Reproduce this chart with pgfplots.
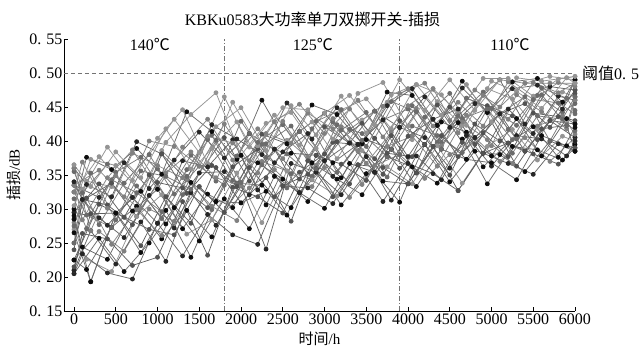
\documentclass[border=0pt]{standalone}
\usepackage{pgfplots}
\pgfplotsset{compat=1.18}
\usepackage{pgfplotstable}
\usepackage{fontspec}
\setmainfont{Liberation Serif}
\newfontfamily\cjk{Noto Sans CJK SC}

\pgfplotstableread{
x     a1   a2   a3   a4   a5   a6   a7   a8   a9
0     .335 .225 .295 .325 .205 .335 .295 .335 .225
300   .317 .267 .337 .377 .257 .277 .287 .357 .307
600   .368 .238 .288 .338 .208 .338 .258 .318 .288
900   .330 .300 .350 .380 .250 .380 .320 .400 .270
1200  .372 .282 .302 .432 .302 .322 .272 .392 .262
1500  .413 .333 .353 .383 .253 .363 .353 .363 .333
1800  .375 .295 .405 .465 .315 .335 .355 .425 .295
2100  .411 .331 .341 .391 .271 .411 .321 .371 .361
2400  .368 .358 .388 .438 .348 .388 .388 .428 .318
2700  .414 .324 .344 .394 .324 .414 .324 .454 .354
3000  .441 .361 .421 .441 .301 .371 .371 .411 .381
3300  .397 .317 .397 .467 .367 .417 .397 .447 .337
3600  .444 .364 .374 .424 .354 .444 .354 .404 .404
3900  .420 .380 .430 .490 .310 .380 .420 .470 .360
4200  .465 .345 .395 .445 .395 .435 .405 .485 .395
4500  .420 .380 .450 .490 .340 .470 .360 .430 .350
4800  .455 .405 .395 .445 .385 .405 .405 .475 .425
5100  .490 .370 .440 .490 .380 .440 .440 .450 .400
5400  .425 .405 .455 .485 .355 .465 .385 .485 .385
5700  .480 .370 .420 .495 .400 .400 .430 .485 .430
6000  .475 .405 .475 .490 .385 .465 .405 .485 .425
}\tA

\pgfplotstableread{
x     b1   b2   b3   b4   b5   b6   b7   b8   b9
0     .285 .225 .315 .360 .280 .250 .270 .300 .325
150   .341 .211 .271 .336 .316 .316 .226 .376 .291
450   .333 .273 .343 .318 .248 .338 .208 .358 .273
750   .304 .304 .324 .399 .299 .289 .289 .389 .334
1050  .386 .256 .296 .381 .261 .381 .321 .351 .286
1350  .348 .298 .358 .343 .343 .323 .263 .443 .348
1650  .389 .259 .409 .424 .304 .364 .284 .414 .299
1950  .428 .338 .338 .403 .283 .333 .353 .373 .378
2250  .365 .335 .395 .380 .370 .410 .280 .460 .365
2550  .401 .291 .381 .456 .356 .396 .356 .396 .331
2850  .428 .368 .348 .403 .333 .343 .343 .453 .418
3150  .374 .344 .424 .449 .399 .399 .319 .439 .354
3450  .431 .321 .411 .396 .336 .426 .386 .396 .401
3750  .457 .377 .377 .452 .392 .382 .362 .472 .347
4050  .402 .362 .452 .477 .407 .377 .337 .467 .422
4350  .458 .338 .398 .423 .363 .453 .393 .423 .408
4650  .423 .403 .433 .478 .428 .398 .338 .488 .383
4950  .477 .337 .447 .442 .402 .452 .392 .442 .447
5250  .462 .392 .402 .477 .367 .437 .417 .487 .382
5550  .417 .387 .467 .482 .422 .402 .372 .492 .437
5850  .472 .372 .442 .447 .437 .457 .407 .457 .432
6000  .465 .395 .455 .490 .410 .470 .400 .490 .415
}\tB

\pgfplotstableread{
x     c1   c2   c3   c4   c5   c6   c7   c8   c9
0     .205 .340 .240 .365 .290 .250 .340 .325 .210
100   .234 .284 .314 .329 .244 .324 .314 .369 .264
400   .206 .346 .306 .391 .226 .366 .276 .301 .256
700   .197 .387 .277 .342 .297 .317 .317 .382 .217
1000  .279 .329 .339 .404 .329 .359 .279 .364 .229
1300  .231 .391 .331 .446 .271 .321 .371 .346 .311
1600  .292 .432 .302 .367 .322 .402 .362 .407 .232
1900  .262 .372 .362 .457 .302 .342 .402 .397 .332
2200  .248 .418 .388 .393 .368 .398 .328 .353 .318
2500  .334 .374 .334 .449 .344 .424 .384 .429 .294
2800  .331 .441 .351 .446 .311 .371 .411 .376 .371
3100  .308 .418 .398 .403 .368 .428 .348 .433 .318
3400  .365 .385 .395 .470 .395 .395 .395 .460 .365
3700  .311 .451 .351 .486 .341 .431 .431 .406 .361
4000  .367 .477 .407 .422 .337 .447 .377 .452 .337
4300  .352 .422 .432 .477 .392 .392 .432 .477 .392
4600  .327 .457 .377 .442 .427 .437 .447 .412 .327
4900  .382 .422 .412 .492 .362 .472 .382 .467 .382
5200  .367 .487 .377 .492 .397 .417 .447 .432 .397
5500  .351 .461 .441 .466 .421 .461 .411 .486 .381
5800  .396 .486 .436 .491 .376 .456 .466 .471 .366
6000  .390 .480 .430 .495 .420 .440 .460 .485 .390
}\tC

\pgfplotstableread{
x     d1   d2   d3   d4   d5   d6   d7   d8   d9
0     .305 .285 .355 .210 .360 .215 .365 .265 .275
200   .373 .193 .293 .268 .268 .293 .333 .193 .353
500   .364 .294 .354 .219 .349 .294 .384 .294 .284
800   .326 .326 .376 .281 .301 .246 .346 .236 .356
1100  .398 .278 .318 .223 .353 .318 .418 .298 .348
1400  .439 .339 .379 .324 .384 .279 .359 .229 .329
1700  .471 .311 .341 .276 .346 .361 .421 .311 .401
2000  .379 .379 .429 .334 .334 .309 .449 .309 .339
2300  .426 .306 .376 .241 .411 .346 .386 .326 .396
2600  .442 .382 .352 .367 .397 .282 .452 .302 .422
2900  .389 .379 .429 .354 .364 .379 .409 .359 .359
3200  .446 .346 .446 .321 .421 .366 .466 .306 .416
3500  .462 .402 .392 .377 .367 .342 .412 .352 .442
3800  .418 .388 .458 .313 .413 .408 .468 .388 .388
4100  .483 .353 .443 .378 .448 .353 .483 .333 .443
4400  .468 .428 .398 .343 .393 .408 .438 .388 .388
4700  .423 .413 .463 .408 .438 .373 .483 .373 .463
5000  .488 .378 .448 .363 .393 .428 .428 .368 .448
5300  .473 .433 .423 .408 .468 .363 .493 .343 .403
5600  .448 .378 .478 .403 .443 .418 .488 .408 .468
5900  .493 .433 .463 .378 .418 .423 .493 .393 .423
6000  .495 .425 .445 .400 .460 .385 .485 .385 .465
}\tD

\pgfplotscreateplotcyclelist{grays}{
black!60,mark=*,mark options={fill=black!85,draw=black!85}\\
black!48,mark=*,mark options={fill=black!50,draw=black!50}\\
black!62,mark=*,mark options={fill=black!68,draw=black!68}\\
black!42,mark=*,mark options={fill=black!42,draw=black!42}\\
black!58,mark=*,mark options={fill=black!95,draw=black!95}\\
black!52,mark=*,mark options={fill=black!58,draw=black!58}\\
}

\begin{document}
\begin{tikzpicture}
\path[use as bounding box] (-64pt,-38pt) rectangle (577pt,311pt);
\begin{axis}[
  scale only axis, width=511pt, height=272pt,
  xmin=-120, xmax=6000, ymin=0.15, ymax=0.55,
  axis x line*=bottom, axis y line*=left,
  axis line style={line width=0.8pt, black},
  xtick={0,500,1000,1500,2000,2500,3000,3500,4000,4500,5000,5500,6000},
  xticklabels={0,500,1000,1500,2000,2500,3000,3500,4000,4500,5000,5500,6000},
  ytick={0.15,0.2,0.25,0.3,0.35,0.4,0.45,0.5,0.55},
  yticklabels={0.\hspace{0.3em}15,0.\hspace{0.3em}20,0.\hspace{0.3em}25,0.\hspace{0.3em}30,0.\hspace{0.3em}35,0.\hspace{0.3em}40,0.\hspace{0.3em}45,0.\hspace{0.3em}50,0.\hspace{0.3em}55},
  tick align=inside, major tick length=4pt,
  tick style={black, line width=0.7pt},
  ticklabel style={font=\fontsize{16}{18}\selectfont},
  yticklabel style={inner xsep=1.5pt},
  xticklabel style={inner ysep=3pt},
  xlabel={{\cjk 时间}/h},
  ylabel={{\cjk 插损}/dB},
  label style={font=\fontsize{15}{17}\selectfont},
  xlabel style={at={(axis description cs:0.5,0)}, anchor=center, yshift=-28pt},
  ylabel style={at={(axis description cs:0,0.5)}, anchor=center, yshift=50pt},
  clip=false,
  cycle list name=grays,
  every axis plot/.append style={line width=0.75pt, mark size=2pt},
]
\draw[black!55, line width=0.7pt, dash pattern=on 4pt off 3pt] (axis cs:-120,0.5) -- (axis cs:6000,0.5);
\draw[black!55, line width=0.7pt, dash pattern=on 5pt off 2pt on 1pt off 2pt] (axis cs:1800,0.15) -- (axis cs:1800,0.55);
\draw[black!55, line width=0.7pt, dash pattern=on 5pt off 2pt on 1pt off 2pt] (axis cs:3900,0.15) -- (axis cs:3900,0.55);

\foreach \c in {a1,a2,a3,a4,a5,a6,a7,a8,a9}{\addplot table[x=x,y=\c]{\tA};}
\foreach \c in {b1,b2,b3,b4,b5,b6,b7,b8,b9}{\addplot table[x=x,y=\c]{\tB};}
\foreach \c in {c1,c2,c3,c4,c5,c6,c7,c8,c9}{\addplot table[x=x,y=\c]{\tC};}
\foreach \c in {d1,d2,d3,d4,d5,d6,d7,d8,d9}{\addplot table[x=x,y=\c]{\tD};}

\node[font=\fontsize{16}{18}\selectfont] at (axis cs:2856,0.5794) {KBKu0583{\cjk 大功率单刀双掷开关-插损}};
\node[font=\fontsize{16}{18}\selectfont] at (axis cs:910,0.5426) {140{\cjk ℃}};
\node[font=\fontsize{16}{18}\selectfont] at (axis cs:2862,0.5426) {125{\cjk ℃}};
\node[font=\fontsize{16}{18}\selectfont] at (axis cs:5222,0.5426) {110{\cjk ℃}};
\node[font=\fontsize{16}{18}\selectfont, anchor=west, inner sep=0pt] at (axis cs:6084,0.5) {{\cjk 阈值}0.\hspace{0.3em}5};
\end{axis}
\end{tikzpicture}
\end{document}
